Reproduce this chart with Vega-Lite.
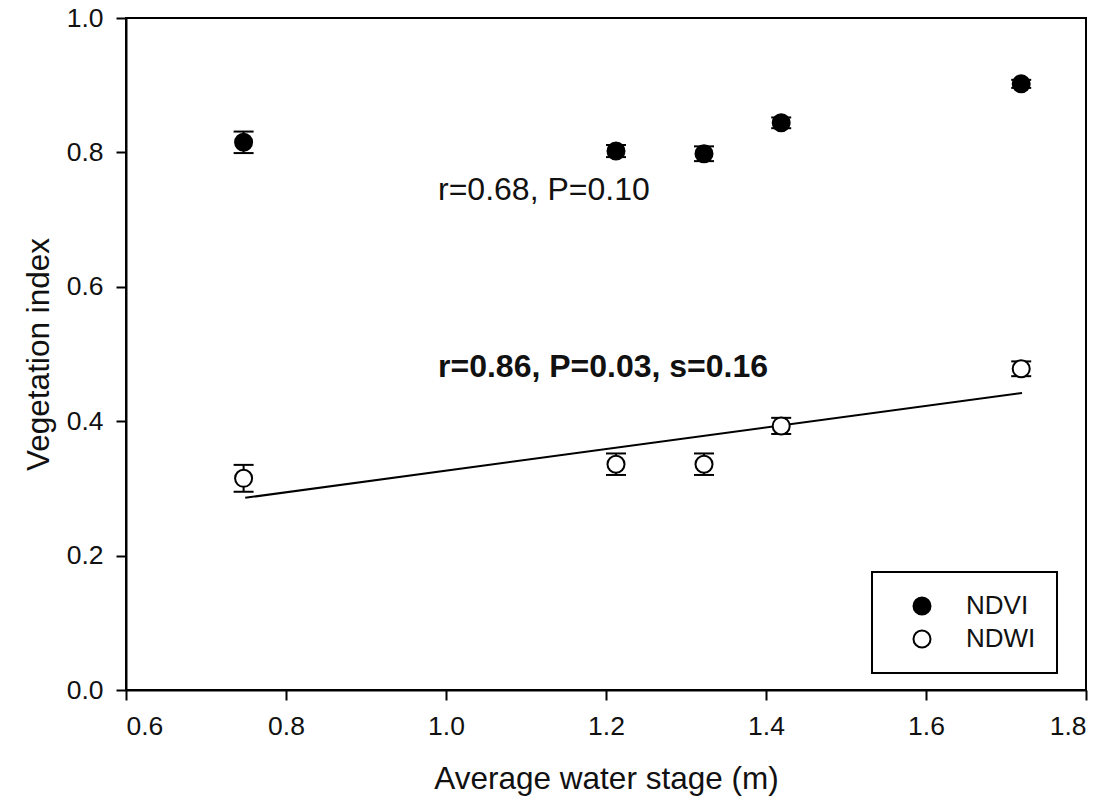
{
  "$schema": "https://vega.github.io/schema/vega-lite/v6.json",
  "width": 960,
  "height": 672,
  "autosize": {"type": "none"},
  "padding": {"left": 126, "top": 18, "right": 26, "bottom": 121},
  "background": "white",
  "config": {
    "font": "Arial",
    "view": {"stroke": "black", "strokeWidth": 2},
    "axis": {
      "grid": false,
      "domainColor": "black",
      "domainWidth": 2,
      "tickColor": "black",
      "tickWidth": 2,
      "tickSize": 10,
      "labelFont": "Arial",
      "labelFontSize": 26.5,
      "labelColor": "#111111",
      "titleFont": "Arial",
      "titleFontSize": 31.5,
      "titleFontWeight": "normal",
      "titleColor": "#111111"
    },
    "legend": {
      "orient": "none",
      "legendX": 746,
      "legendY": 554,
      "strokeColor": "black",
      "strokeWidth": 2,
      "fillColor": "white",
      "padding": 21,
      "symbolSize": 290,
      "symbolStrokeColor": "black",
      "symbolStrokeWidth": 2,
      "symbolOffset": 16,
      "labelOffset": 31,
      "labelFont": "Arial",
      "labelFontSize": 26,
      "labelColor": "#111111",
      "rowPadding": 7
    }
  },
  "datasets": {
    "obs": [
      {"stage": 0.747, "index": 0.815, "err": 0.016, "series": "NDVI"},
      {"stage": 1.2125, "index": 0.802, "err": 0.009, "series": "NDVI"},
      {"stage": 1.3225, "index": 0.798, "err": 0.011, "series": "NDVI"},
      {"stage": 1.419, "index": 0.844, "err": 0.008, "series": "NDVI"},
      {"stage": 1.719, "index": 0.902, "err": 0.006, "series": "NDVI"},
      {"stage": 0.747, "index": 0.315, "err": 0.020, "series": "NDWI"},
      {"stage": 1.2125, "index": 0.336, "err": 0.016, "series": "NDWI"},
      {"stage": 1.3225, "index": 0.336, "err": 0.016, "series": "NDWI"},
      {"stage": 1.419, "index": 0.393, "err": 0.012, "series": "NDWI"},
      {"stage": 1.719, "index": 0.478, "err": 0.011, "series": "NDWI"}
    ],
    "fit": [
      {"stage": 0.749, "index": 0.286},
      {"stage": 1.72, "index": 0.442}
    ]
  },
  "encoding": {
    "x": {
      "field": "stage",
      "type": "quantitative",
      "title": "Average water stage (m)",
      "scale": {"domain": [0.6, 1.8], "nice": false, "zero": false},
      "axis": {"values": [0.6, 0.8, 1.0, 1.2, 1.4, 1.6, 1.8], "format": ".1f", "labelPadding": 13, "titlePadding": 24}
    },
    "y": {
      "field": "index",
      "type": "quantitative",
      "title": "Vegetation index",
      "scale": {"domain": [0, 1], "nice": false},
      "axis": {"values": [0, 0.2, 0.4, 0.6, 0.8, 1.0], "format": ".1f", "labelPadding": 13, "titlePadding": 11}
    }
  },
  "layer": [
    {
      "data": {"name": "obs"},
      "mark": {
        "type": "errorbar",
        "color": "black",
        "opacity": 1,
        "thickness": 2,
        "rule": {"color": "black", "opacity": 1},
        "ticks": {"size": 20, "thickness": 2, "color": "black", "opacity": 1}
      },
      "encoding": {
        "yError": {"field": "err"}
      }
    },
    {
      "data": {"name": "fit"},
      "mark": {"type": "line", "color": "black", "strokeWidth": 2}
    },
    {
      "data": {"name": "obs"},
      "mark": {"type": "point", "filled": true, "size": 290, "stroke": "black", "strokeWidth": 2, "opacity": 1},
      "encoding": {
        "fill": {
          "field": "series",
          "type": "nominal",
          "scale": {"domain": ["NDVI", "NDWI"], "range": ["black", "white"]},
          "legend": {"title": null, "labelExpr": "datum.label + '   '"}
        }
      }
    },
    {
      "data": {"values": [{"stage": 0.99, "index": 0.744, "note": "r=0.68, P=0.10"}]},
      "mark": {"type": "text", "align": "left", "baseline": "middle", "fontSize": 32, "font": "Arial", "color": "#111111"},
      "encoding": {"text": {"field": "note"}}
    },
    {
      "data": {"values": [{"stage": 0.99, "index": 0.481, "note": "r=0.86, P=0.03, s=0.16"}]},
      "mark": {"type": "text", "align": "left", "baseline": "middle", "fontSize": 32, "fontWeight": "bold", "font": "Arial", "color": "#111111"},
      "encoding": {"text": {"field": "note"}}
    }
  ]
}
